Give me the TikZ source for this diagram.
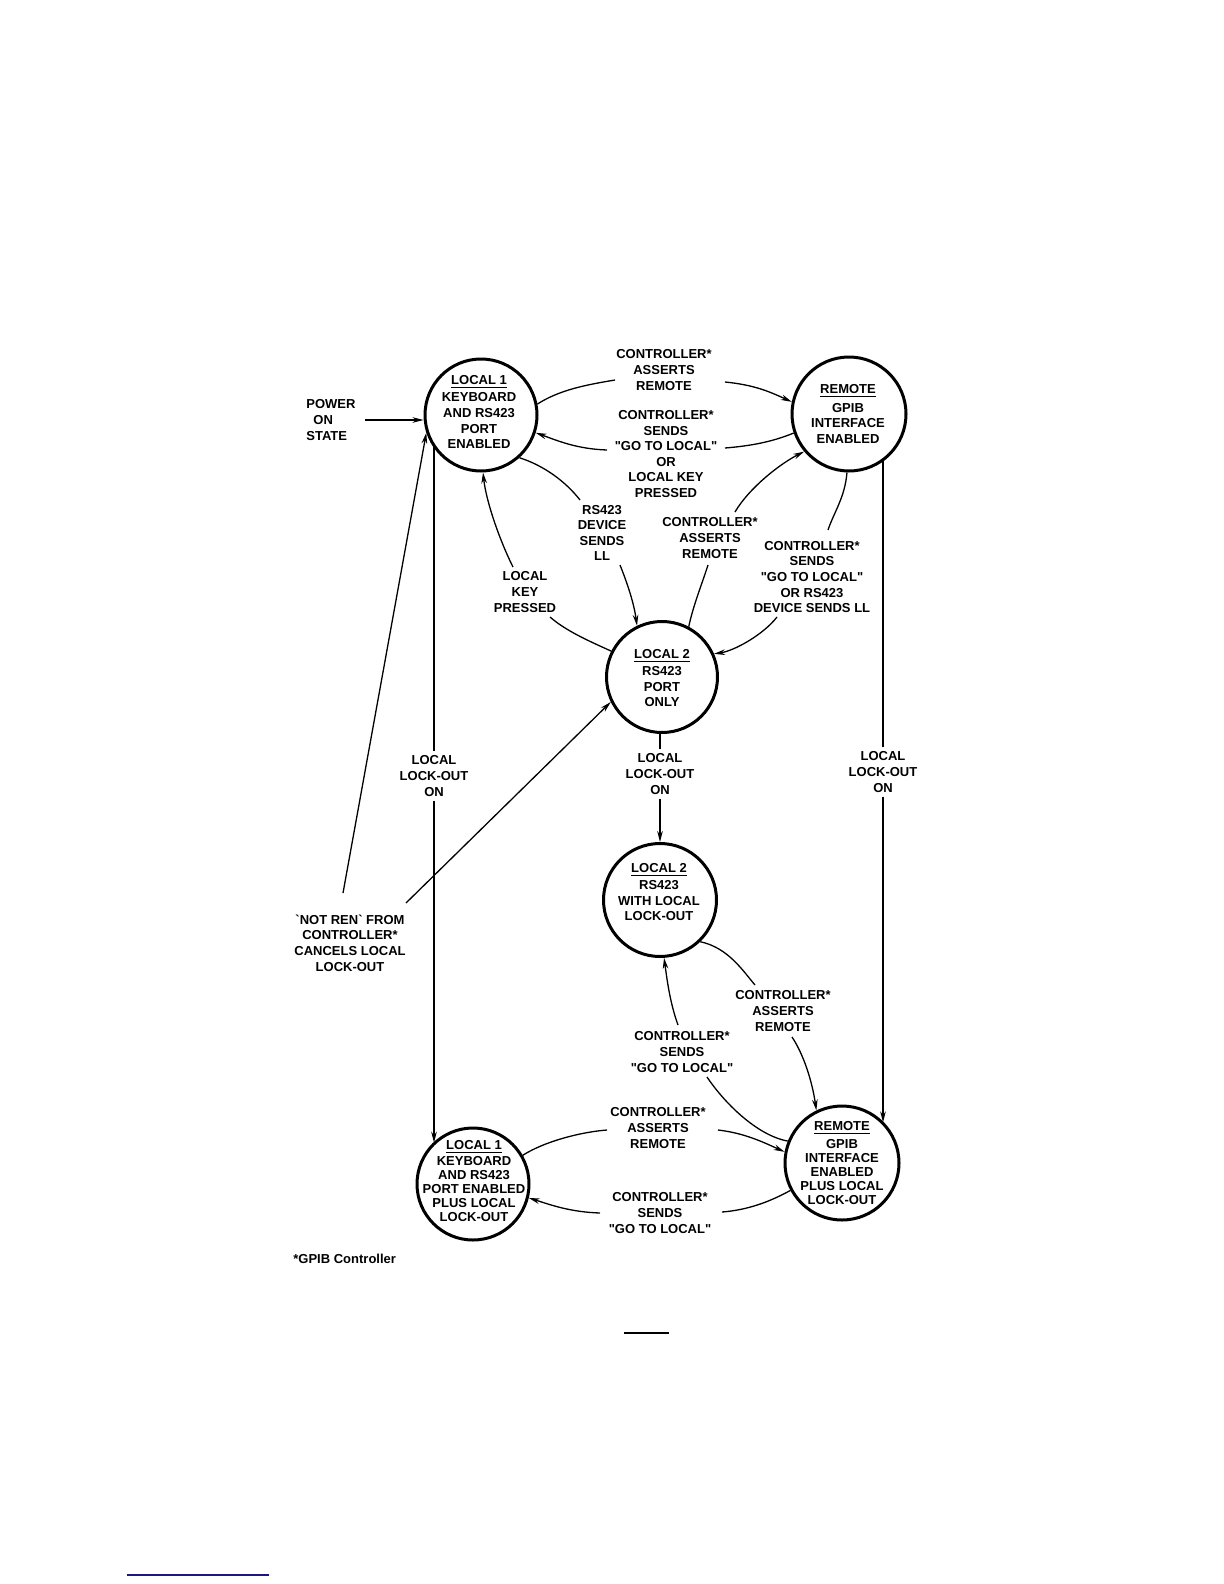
\documentclass[tikz,border=0pt]{standalone}
\usepackage{fontspec}
\newfontfamily\dfont{Liberation Sans}
\usetikzlibrary{arrows.meta,calc,shapes.geometric}
\definecolor{pagelink}{RGB}{24,24,128}
\begin{document}
\begin{tikzpicture}[x=0.5pt,y=-0.5pt,
  st/.style={circle,draw,line width=1.5pt,inner sep=0pt,minimum size=#1},
  txt/.style={font=\dfont\fontsize{6.5}{7.8}\selectfont\bfseries,align=center,inner sep=0pt},
  tight/.style={font=\dfont\fontsize{6.5}{7.0}\selectfont\bfseries,align=center,inner sep=0pt},
  vlab/.style={txt,inner xsep=0pt,inner ysep=2pt},
  con/.style={line width=0.65pt},
  arr/.style={con,-{Stealth[length=5.5pt,width=2.8pt]}}]
\useasboundingbox (0,0) rectangle (1224,1584);

% states
\node[st=56pt] (L1) at (481,415) {};
\node[st=57pt] (R1) at (849,414) {};
\node[st=55.5pt] (L2) at (662,677) {};
\node[st=56.5pt] (L2b) at (660,900) {};
\node[st=56pt] (L1b) at (473,1184) {};
\node[st=57pt] (R2) at (842,1163) {};

% state texts
\node[txt] (L1t) at (479,412) {\underline{LOCAL 1}\\[1pt]KEYBOARD\\AND RS423\\PORT\\ENABLED};
\node[txt] (R1t) at (848,414) {\underline{REMOTE}\\[1.5pt]GPIB\\INTERFACE\\ENABLED};
\node[txt] (L2t) at (662,678) {\underline{LOCAL 2}\\[0.8pt]RS423\\PORT\\ONLY};
\node[txt] (L2bt) at (659,892) {\underline{LOCAL 2}\\[0.8pt]RS423\\WITH LOCAL\\LOCK-OUT};
\node[tight] (L1bt) at (474,1181) {\underline{LOCAL 1}\\[0.8pt]KEYBOARD\\AND RS423\\PORT ENABLED\\PLUS LOCAL\\LOCK-OUT};
\node[tight] (R2t) at (842,1163) {\underline{REMOTE}\\[1.8pt]GPIB\\INTERFACE\\ENABLED\\PLUS LOCAL\\LOCK-OUT};

% labels
\node[txt,align=left,anchor=west] (PW) at (306,420) {POWER\\\hspace{3.5pt}ON\\STATE};
\node[txt] (T1) at (664,370) {CONTROLLER*\\ASSERTS\\REMOTE};
\node[txt] (T2) at (666,454) {CONTROLLER*\\SENDS\\"GO TO LOCAL"\\OR\\LOCAL KEY\\PRESSED};
\node[txt] (T3) at (602,533) {RS423\\DEVICE\\SENDS\\LL};
\node[txt] (T4) at (525,592) {LOCAL\\KEY\\PRESSED};
\node[txt] (T5) at (710,538) {CONTROLLER*\\ASSERTS\\REMOTE};
\node[txt] (T6) at (812,577) {CONTROLLER*\\SENDS\\"GO TO LOCAL"\\OR RS423\\DEVICE SENDS LL};
\node[vlab] (T7) at (434,776) {LOCAL\\LOCK-OUT\\ON};
\node[vlab] (T8) at (660,774) {LOCAL\\LOCK-OUT\\ON};
\node[vlab] (T9) at (883,772) {LOCAL\\LOCK-OUT\\ON};
\node[txt] (T10) at (783,1011) {CONTROLLER*\\ASSERTS\\REMOTE};
\node[txt] (T11) at (682,1052) {CONTROLLER*\\SENDS\\"GO TO LOCAL"};
\node[txt] (T12) at (658,1128) {CONTROLLER*\\ASSERTS\\REMOTE};
\node[txt] (T13) at (660,1213) {CONTROLLER*\\SENDS\\"GO TO LOCAL"};
\node[txt] (T14) at (350,943) {`NOT REN` FROM\\CONTROLLER*\\CANCELS LOCAL\\LOCK-OUT};
\node[txt,anchor=west] (FN) at (293,1259) {*GPIB Controller};

% power on
\draw[arr] ([xshift=4.5pt]PW.east) -- (PW.east -| L1.west);

% L1 <-> R1
\draw[con] (L1.11) .. controls +(22,-14) and +(-30,5) .. ($(T1)+(-49,10)$);
\draw[arr] ($(T1)+(61,12)$) .. controls +(30,3) and +(-22,-10) .. (R1.168);
\draw[con] (R1.199) .. controls +(-22,9) and +(25,-2) .. ($(T2)+(59,-6)$);
\draw[arr] ($(T2)+(-59,-4)$) .. controls +(-30,-1) and +(22,8) .. (L1.342);

% L1 <-> L2
\draw[con] (L1.312) .. controls +(25,8) and +(-14,-18) .. ($(T3)+(-22,-33)$);
\draw[arr] ($(T3)+(18,32)$) .. controls +(8,20) and +(-3,-22) .. (L2.116);
\draw[con] (L2.153) .. controls +(-22,-10) and +(16,14) .. ($(T4)+(25,25)$);
\draw[arr] ($(T4)+(-12,-25)$) .. controls +(-14,-28) and +(3,28) .. (L1.272);

% L2 <-> R1
\draw[con] (L2.62) .. controls +(4,-20) and +(-5,16) .. ($(T5)+(-2,27)$);
\draw[arr] ($(T5)+(25,-26)$) .. controls +(14,-24) and +(-24,12) .. (R1.220);
\draw[con] (R1.268) .. controls +(-2,25) and +(6,-18) .. ($(T6)+(16,-47)$);
\draw[arr] ($(T6)+(-35,40)$) .. controls +(-14,18) and +(20,-3) .. (L2.24);

% lock-out verticals
\draw[con] (T7.north) -- (T7.north |- L1.212);
\draw[arr] (T7.south) -- (T7.south |- L1b.134);
\draw[con] (T8.north) -- (T8.north |- L2.south);
\draw[arr] (T8.south) -- (T8.south |- L2b.north);
\draw[con] (T9.north) -- (T9.north |- R1.307);
\draw[arr] (T9.south) -- (T9.south |- R2.44);

% L2b <-> R2
\draw[con] (L2b.314) .. controls +(28,6) and +(-12,-14) .. ($(T10)+(-28,-26)$);
\draw[arr] ($(T10)+(9,26)$) .. controls +(12,18) and +(-4,-28) .. (R2.116);
\draw[con] (R2.158) .. controls +(-32,-6) and +(16,24) .. ($(T11)+(25,25)$);
\draw[arr] ($(T11)+(-4,-27)$) .. controls +(-8,-22) and +(3,22) .. (L2b.274);

% L1b <-> R2
\draw[con] (L1b.30) .. controls +(22,-14) and +(-26,2) .. ($(T12)+(-51,2)$);
\draw[arr] ($(T12)+(60,2)$) .. controls +(26,3) and +(-22,-10) .. (R2.169);
\draw[con] (R2.208) .. controls +(-22,12) and +(25,-2) .. ($(T13)+(62,-1)$);
\draw[arr] ($(T13)+(-60,0)$) .. controls +(-30,-1) and +(22,7) .. (L1b.346);

% NOT REN
\draw[arr] ($(T14)+(-7,-50)$) -- (L1.198);
\draw[arr] ($(T14)+(56,-40)$) -- (L2.206);

% page marks
\draw[line width=0.8pt] (624,1333) -- (669,1333);
\draw[line width=0.9pt,pagelink] (127,1575) -- (269,1575);
\end{tikzpicture}
\end{document}
